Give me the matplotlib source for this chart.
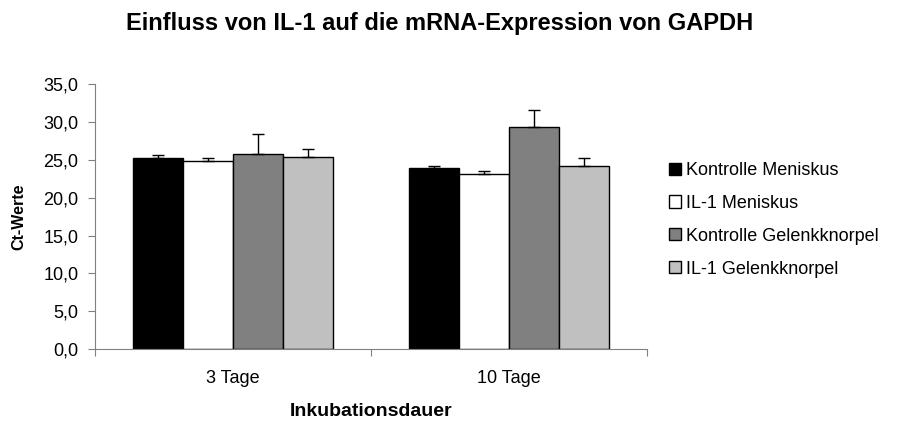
import matplotlib.pyplot as plt
import numpy as np

plt.rcParams['font.family'] = ['Liberation Sans', 'DejaVu Sans']

kategorien = ['3 Tage', '10 Tage']
serien = ['Kontrolle Meniskus', 'IL-1 Meniskus', 'Kontrolle Gelenkknorpel', 'IL-1 Gelenkknorpel']
werte = [
    [25.2, 23.9],
    [24.9, 23.1],
    [25.8, 29.4],
    [25.4, 24.2],
]
fehler = [
    [0.5, 0.3],
    [0.3, 0.4],
    [2.6, 2.2],
    [1.0, 1.0],
]
farben = ['#000000', '#ffffff', '#808080', '#c0c0c0']

fig = plt.figure(figsize=(8.97, 4.21), dpi=100)
ax = fig.add_axes([0.106, 0.171, 0.615, 0.629])

x = np.arange(len(kategorien))
breite = 0.181
for i, name in enumerate(serien):
    pos = x + (i - 1.5) * breite
    ax.bar(pos, werte[i], breite, color=farben[i], edgecolor='black', linewidth=1.0,
           label=name, zorder=2)
    ax.errorbar(pos, werte[i], yerr=[np.zeros(len(kategorien)), fehler[i]],
                fmt='none', ecolor='black', elinewidth=1.0, capsize=4, capthick=1.0, zorder=3)

ax.set_xlim(-0.5, 1.5)
ax.set_ylim(0, 35)
ax.set_yticks(np.arange(0, 35.1, 5))
ax.set_yticklabels([f'{v:.1f}'.replace('.', ',') for v in np.arange(0, 35.1, 5)], fontsize=13)
ax.set_xticks([-0.5, 0.5, 1.5])
ax.set_xticklabels([])
ax.set_xticks(x, minor=True)
ax.set_xticklabels(kategorien, minor=True, fontsize=13)
ax.tick_params(axis='x', which='minor', length=0, pad=15)
ax.tick_params(axis='x', which='major', length=5, color='#808080')
ax.tick_params(axis='y', length=5, color='#808080', pad=7)

for s in ['top', 'right']:
    ax.spines[s].set_visible(False)
for s in ['left', 'bottom']:
    ax.spines[s].set_color('#808080')

ax.set_ylabel('Ct-Werte', fontsize=11.5, fontweight='bold', labelpad=12.5)
ax.set_xlabel('Inkubationsdauer', fontsize=14, fontweight='bold', labelpad=11.5)
fig.suptitle('Einfluss von IL-1 auf die mRNA-Expression von GAPDH', fontsize=17,
             fontweight='bold', x=0.49, y=0.972)

ax.legend(loc='center left', bbox_to_anchor=(1.04, 0.488), frameon=False, fontsize=13,
          handlelength=0.65, handleheight=0.65, handletextpad=0.3, labelspacing=0.88,
          borderaxespad=0, borderpad=0)

plt.savefig('out.png', dpi=100)
